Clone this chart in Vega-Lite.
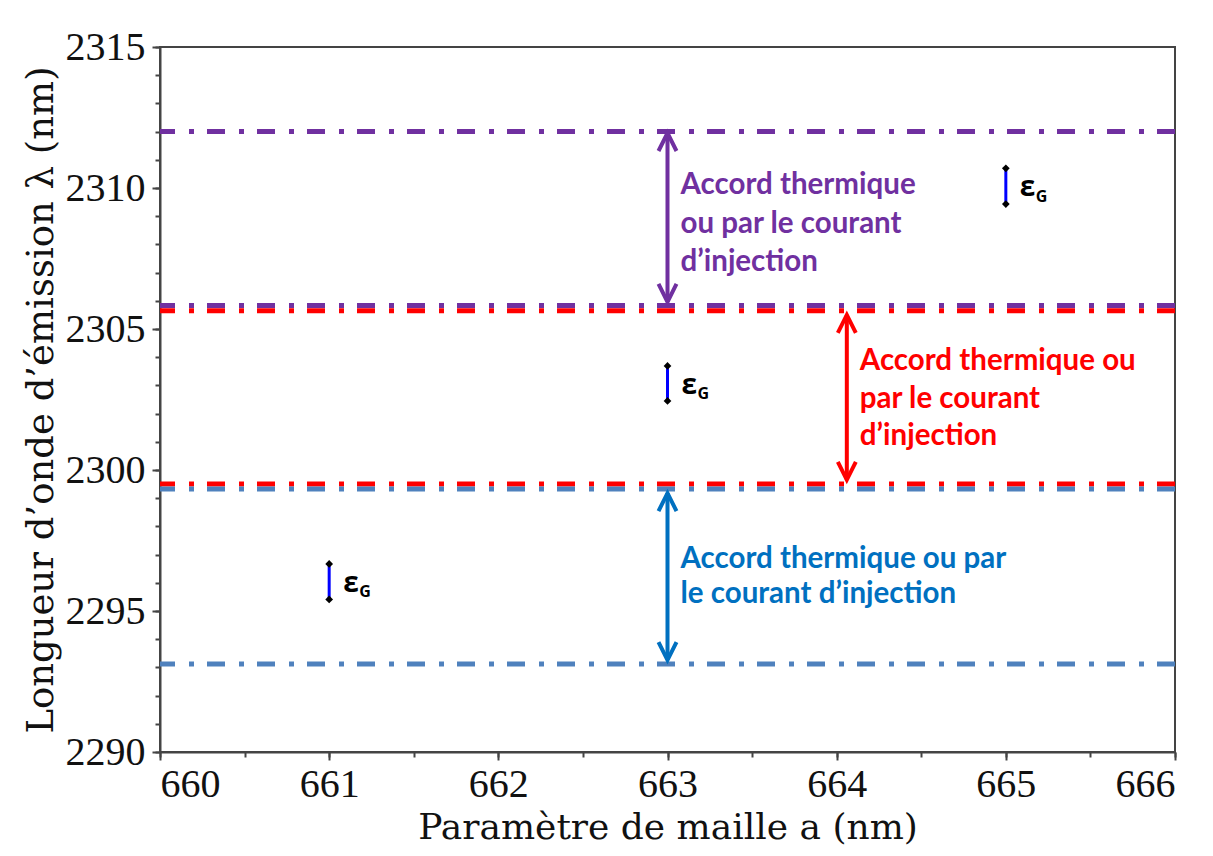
{
  "$schema": "https://vega.github.io/schema/vega-lite/v6.json",
  "width": 1015,
  "height": 705,
  "autosize": {"type": "none"},
  "padding": {"left": 160, "top": 47, "right": 38, "bottom": 104},
  "background": "white",
  "config": {
    "view": {"stroke": "#444", "strokeWidth": 2},
    "axis": {
      "grid": false,
      "domainColor": "#444",
      "domainWidth": 2,
      "tickColor": "#444",
      "tickWidth": 2,
      "labelFont": "Liberation Serif",
      "labelFontSize": 40,
      "labelColor": "#111",
      "titleFont": "DejaVu Serif",
      "titleFontSize": 36,
      "titleFontWeight": "normal",
      "titleColor": "#111"
    }
  },
  "datasets": {
    "hlines": [
      {"y": 2312.0, "s": "violet"},
      {"y": 2305.83, "s": "violet"},
      {"y": 2305.65, "s": "rouge"},
      {"y": 2299.5, "s": "rouge"},
      {"y": 2299.33, "s": "bleu"},
      {"y": 2293.12, "s": "bleu"}
    ],
    "arrows": [
      {"x": 663.0, "top": 2311.95, "bottom": 2305.96, "s": "violet"},
      {"x": 664.06, "top": 2305.5, "bottom": 2299.65, "s": "rouge"},
      {"x": 663.0, "top": 2299.18, "bottom": 2293.26, "s": "bleu"}
    ],
    "errbars": [
      {"x": 665, "hi": 2310.7, "lo": 2309.43},
      {"x": 663, "hi": 2303.69, "lo": 2302.45},
      {"x": 661, "hi": 2296.67, "lo": 2295.41}
    ],
    "notes": [
      {"x": 663.0, "y": 2310.11, "text": "Accord thermique", "s": "violet"},
      {"x": 663.0, "y": 2308.72, "text": "ou par le courant", "s": "violet"},
      {"x": 663.0, "y": 2307.39, "text": "d’injection", "s": "violet"},
      {"x": 664.06, "y": 2303.87, "text": "Accord thermique ou", "s": "rouge"},
      {"x": 664.06, "y": 2302.52, "text": "par le courant", "s": "rouge"},
      {"x": 664.06, "y": 2301.21, "text": "d’injection", "s": "rouge"},
      {"x": 663.0, "y": 2296.86, "text": "Accord thermique ou par", "s": "bleu"},
      {"x": 663.0, "y": 2295.6, "text": "le courant d’injection", "s": "bleu"}
    ]
  },
  "resolve": {"axis": {"x": "independent", "y": "independent"}},
  "layer": [
    {
      "data": {"name": "hlines"},
      "mark": {"type": "rule", "strokeWidth": 5, "strokeDash": [18, 13, 5, 14]},
      "encoding": {
        "y": {"field": "y", "type": "quantitative", "scale": {"domain": [2290, 2315], "nice": false, "zero": false}, "axis": null},
        "stroke": {"field": "s", "type": "nominal", "scale": {"domain": ["violet", "rouge", "bleu"], "range": ["#7030A0", "#FF0000", "#4F81BD"]}, "legend": null}
      }
    },
    {
      "data": {"name": "errbars"},
      "mark": {"type": "rule", "strokeWidth": 3, "color": "#0000FF"},
      "encoding": {
        "x": {"field": "x", "type": "quantitative", "scale": {"domain": [660, 666], "nice": false, "zero": false},
          "axis": {"values": [660, 661, 662, 663, 664, 665, 666], "format": "d", "tickSize": 8, "labelPadding": 4, "labelFont": "Liberation Serif", "labelFontSize": 40, "title": "Paramètre de maille a (nm)", "titlePadding": 6}},
        "y": {"field": "hi", "type": "quantitative", "scale": {"domain": [2290, 2315], "nice": false, "zero": false},
          "axis": {"values": [2290, 2295, 2300, 2305, 2310, 2315], "format": "d", "tickSize": 8, "labelPadding": 7, "labelFont": "Liberation Serif", "labelFontSize": 40, "title": "Longueur d’onde d’émission λ (nm)", "titlePadding": 5, "titleFontSize": 37}},
        "y2": {"field": "lo"}
      }
    },
    {
      "data": {"name": "errbars"},
      "mark": {"type": "point", "shape": "diamond", "filled": true, "color": "black", "size": 60, "opacity": 1},
      "encoding": {
        "x": {"field": "x", "type": "quantitative", "axis": null},
        "y": {"field": "hi", "type": "quantitative", "axis": null}
      }
    },
    {
      "data": {"name": "errbars"},
      "mark": {"type": "point", "shape": "diamond", "filled": true, "color": "black", "size": 60, "opacity": 1},
      "encoding": {
        "x": {"field": "x", "type": "quantitative", "axis": null},
        "y": {"field": "lo", "type": "quantitative", "axis": null}
      }
    },
    {
      "data": {"name": "errbars"},
      "mark": {"type": "text", "text": "ε", "font": "Open Sans", "fontWeight": "bold", "fontSize": 28, "align": "left", "baseline": "middle", "dx": 14, "dy": 20, "color": "black"},
      "encoding": {
        "x": {"field": "x", "type": "quantitative", "axis": null},
        "y": {"field": "hi", "type": "quantitative", "axis": null}
      }
    },
    {
      "data": {"name": "errbars"},
      "mark": {"type": "text", "text": "G", "font": "Open Sans", "fontWeight": "bold", "fontSize": 16, "align": "left", "baseline": "middle", "dx": 30, "dy": -7, "color": "black"},
      "encoding": {
        "x": {"field": "x", "type": "quantitative", "axis": null},
        "y": {"field": "lo", "type": "quantitative", "axis": null}
      }
    },
    {
      "data": {"name": "arrows"},
      "mark": {"type": "rule", "strokeWidth": 4},
      "encoding": {
        "x": {"field": "x", "type": "quantitative",
          "axis": {"values": [660, 660.5, 661, 661.5, 662, 662.5, 663, 663.5, 664, 664.5, 665, 665.5, 666], "orient": "bottom", "tickSize": 5, "labels": false, "domain": false, "title": null}},
        "y": {"field": "top", "type": "quantitative",
          "axis": {"values": [2290, 2291, 2292, 2293, 2294, 2295, 2296, 2297, 2298, 2299, 2300, 2301, 2302, 2303, 2304, 2305, 2306, 2307, 2308, 2309, 2310, 2311, 2312, 2313, 2314, 2315], "orient": "left", "tickSize": 5, "labels": false, "domain": false, "title": null}},
        "y2": {"field": "bottom"},
        "color": {"field": "s", "type": "nominal", "scale": {"domain": ["violet", "rouge", "bleu"], "range": ["#7030A0", "#FF0000", "#0070C0"]}, "legend": null}
      }
    },
    {
      "data": {"name": "arrows"},
      "mark": {"type": "point", "shape": "M-0.5,1L0,0L0.5,1", "filled": false, "strokeWidth": 4, "size": 1296, "opacity": 1},
      "encoding": {
        "x": {"field": "x", "type": "quantitative", "axis": null},
        "y": {"field": "top", "type": "quantitative", "axis": null},
        "color": {"field": "s", "type": "nominal", "legend": null}
      }
    },
    {
      "data": {"name": "arrows"},
      "mark": {"type": "point", "shape": "M-0.5,-1L0,0L0.5,-1", "filled": false, "strokeWidth": 4, "size": 1296, "opacity": 1},
      "encoding": {
        "x": {"field": "x", "type": "quantitative", "axis": null},
        "y": {"field": "bottom", "type": "quantitative", "axis": null},
        "color": {"field": "s", "type": "nominal", "legend": null}
      }
    },
    {
      "data": {"name": "notes"},
      "mark": {"type": "text", "font": "Lato", "fontWeight": "bold", "fontSize": 29.5, "align": "left", "baseline": "middle", "dx": 13},
      "encoding": {
        "x": {"field": "x", "type": "quantitative", "axis": null},
        "y": {"field": "y", "type": "quantitative", "axis": null},
        "text": {"field": "text", "type": "nominal"},
        "color": {"field": "s", "type": "nominal", "legend": null}
      }
    }
  ]
}
